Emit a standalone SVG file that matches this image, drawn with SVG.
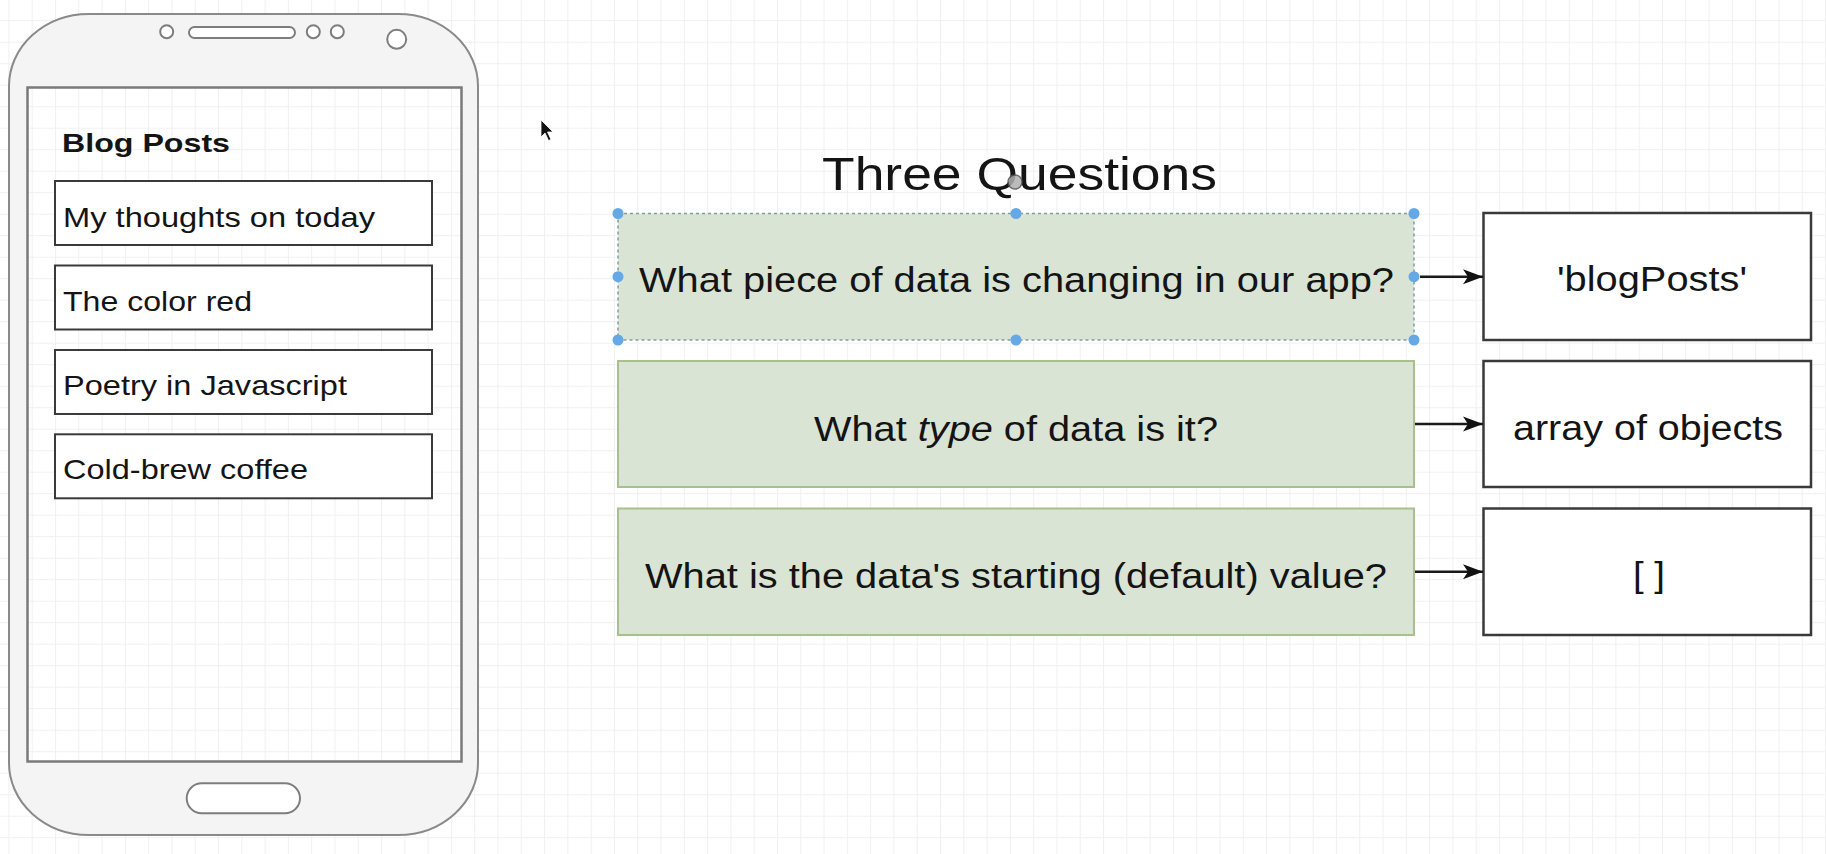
<svg xmlns="http://www.w3.org/2000/svg" width="1826" height="854" viewBox="0 0 1826 854">
<defs>
<pattern id="grid" patternUnits="userSpaceOnUse" x="8.4" y="20.2" width="23.29" height="21.5">
<rect width="23.29" height="21.5" fill="#ffffff"/>
<path d="M0 0.5 H23.29 M0.5 0 V21.5" stroke="#f0f0f0" stroke-width="1" fill="none"/>
</pattern>
<marker id="arr" markerUnits="userSpaceOnUse" markerWidth="22" markerHeight="18" refX="20" refY="8" orient="auto">
<path d="M0,0.5 L20,8 L0,15.5 L5,8 Z" fill="#111"/>
</marker>
<style>
text{font-family:"Liberation Sans",Arial,Helvetica,sans-serif;fill:#141414}
.item{fill:#ffffff;stroke:#3a3a3a;stroke-width:2}
.itxt{font-size:28px}
.q{fill:#d9e4d5;stroke:#a7c08d;stroke-width:2}
.qtxt{font-size:35px}
.ans{fill:#ffffff;stroke:#3a3a3a;stroke-width:2.5}
.ph{fill:#ffffff;stroke:#7d7d7d;stroke-width:2}
.handle{fill:#65a8e6}
.conn{stroke:#1a1a1a;stroke-width:2.5;fill:none;marker-end:url(#arr)}
</style>
</defs>
<rect width="1826" height="854" fill="url(#grid)"/>

<g id="phone">
<rect x="9" y="14" width="469" height="821" rx="80" ry="72" fill="#f4f4f4" stroke="#8a8a8a" stroke-width="2"/>
<rect x="27.5" y="87.5" width="434" height="674" fill="url(#grid)" stroke="#7a7a7a" stroke-width="2.5"/>
<circle class="ph" cx="166.7" cy="31.7" r="6.5"/>
<rect class="ph" x="189" y="27" width="106" height="11" rx="5.5"/>
<circle class="ph" cx="313.3" cy="31.7" r="6.5"/>
<circle class="ph" cx="337.3" cy="31.7" r="6.5"/>
<circle class="ph" cx="396.7" cy="39.3" r="9.5"/>
<rect class="ph" x="186.7" y="783.3" width="113.3" height="30" rx="15"/>
</g>

<g id="blog-title">
<text x="62" y="151.7" font-size="26" font-weight="bold" textLength="168" lengthAdjust="spacingAndGlyphs">Blog Posts</text>
</g>
<g id="post-1">
<rect class="item" x="55" y="181" width="377" height="64"/>
<text class="itxt" x="63" y="226.7" textLength="312" lengthAdjust="spacingAndGlyphs">My thoughts on today</text>
</g>
<g id="post-2">
<rect class="item" x="55" y="265.5" width="377" height="64"/>
<text class="itxt" x="63" y="310.7" textLength="189" lengthAdjust="spacingAndGlyphs">The color red</text>
</g>
<g id="post-3">
<rect class="item" x="55" y="350" width="377" height="64"/>
<text class="itxt" x="63" y="395" textLength="284" lengthAdjust="spacingAndGlyphs">Poetry in Javascript</text>
</g>
<g id="post-4">
<rect class="item" x="55" y="434.3" width="377" height="64"/>
<text class="itxt" x="63" y="479" textLength="245" lengthAdjust="spacingAndGlyphs">Cold-brew coffee</text>
</g>

<g id="title">
<text x="822" y="189.5" font-size="47" textLength="395" lengthAdjust="spacingAndGlyphs">Three Questions</text>
</g>

<g id="q1">
<rect x="618" y="213.5" width="796" height="126.5" fill="#d9e4d5" stroke="#7f9e9c" stroke-width="1.5" stroke-dasharray="3 3"/>
<text class="qtxt" x="639" y="292" textLength="755" lengthAdjust="spacingAndGlyphs">What piece of data is changing in our app?</text>
<circle class="handle" cx="618" cy="213.5" r="5.5"/>
<circle class="handle" cx="1016" cy="213.5" r="5.5"/>
<circle class="handle" cx="1414" cy="213.5" r="5.5"/>
<circle class="handle" cx="618" cy="276.7" r="5.5"/>
<circle class="handle" cx="1414" cy="276.7" r="5.5"/>
<circle class="handle" cx="618" cy="340" r="5.5"/>
<circle class="handle" cx="1016" cy="340" r="5.5"/>
<circle class="handle" cx="1414" cy="340" r="5.5"/>
</g>
<g id="q2">
<rect class="q" x="618" y="361" width="796" height="126"/>
<text class="qtxt" x="814" y="440.5" textLength="404" lengthAdjust="spacingAndGlyphs">What <tspan font-style="italic">type</tspan> of data is it?</text>
</g>
<g id="q3">
<rect class="q" x="618" y="508.5" width="796" height="126.5"/>
<text class="qtxt" x="645" y="587.5" textLength="742" lengthAdjust="spacingAndGlyphs">What is the data's starting (default) value?</text>
</g>

<g id="a1">
<rect class="ans" x="1483.5" y="213" width="327.5" height="127"/>
<text class="qtxt" x="1557" y="291" textLength="190" lengthAdjust="spacingAndGlyphs">'blogPosts'</text>
</g>
<g id="a2">
<rect class="ans" x="1483.5" y="361" width="327.5" height="126"/>
<text class="qtxt" x="1513" y="440" textLength="270" lengthAdjust="spacingAndGlyphs">array of objects</text>
</g>
<g id="a3">
<rect class="ans" x="1483.5" y="508.5" width="327.5" height="126.5"/>
<text class="qtxt" x="1633" y="587" textLength="32" lengthAdjust="spacingAndGlyphs">[ ]</text>
</g>

<g id="connectors">
<line class="conn" x1="1420" y1="276.7" x2="1483" y2="276.7"/>
<line class="conn" x1="1415" y1="424" x2="1483" y2="424"/>
<line class="conn" x1="1415" y1="571.7" x2="1483" y2="571.7"/>
</g>

<g id="cursors">
<path d="M541,120 L541,137 L545,133 L548.5,140.5 L551,139.5 L547.5,132 L553,132 Z" fill="#111" stroke="#fff" stroke-width="0.8"/>
<circle cx="1015" cy="182" r="7" fill="#b0b0b0" stroke="#555" stroke-width="1.5" opacity="0.85"/>
</g>
</svg>
